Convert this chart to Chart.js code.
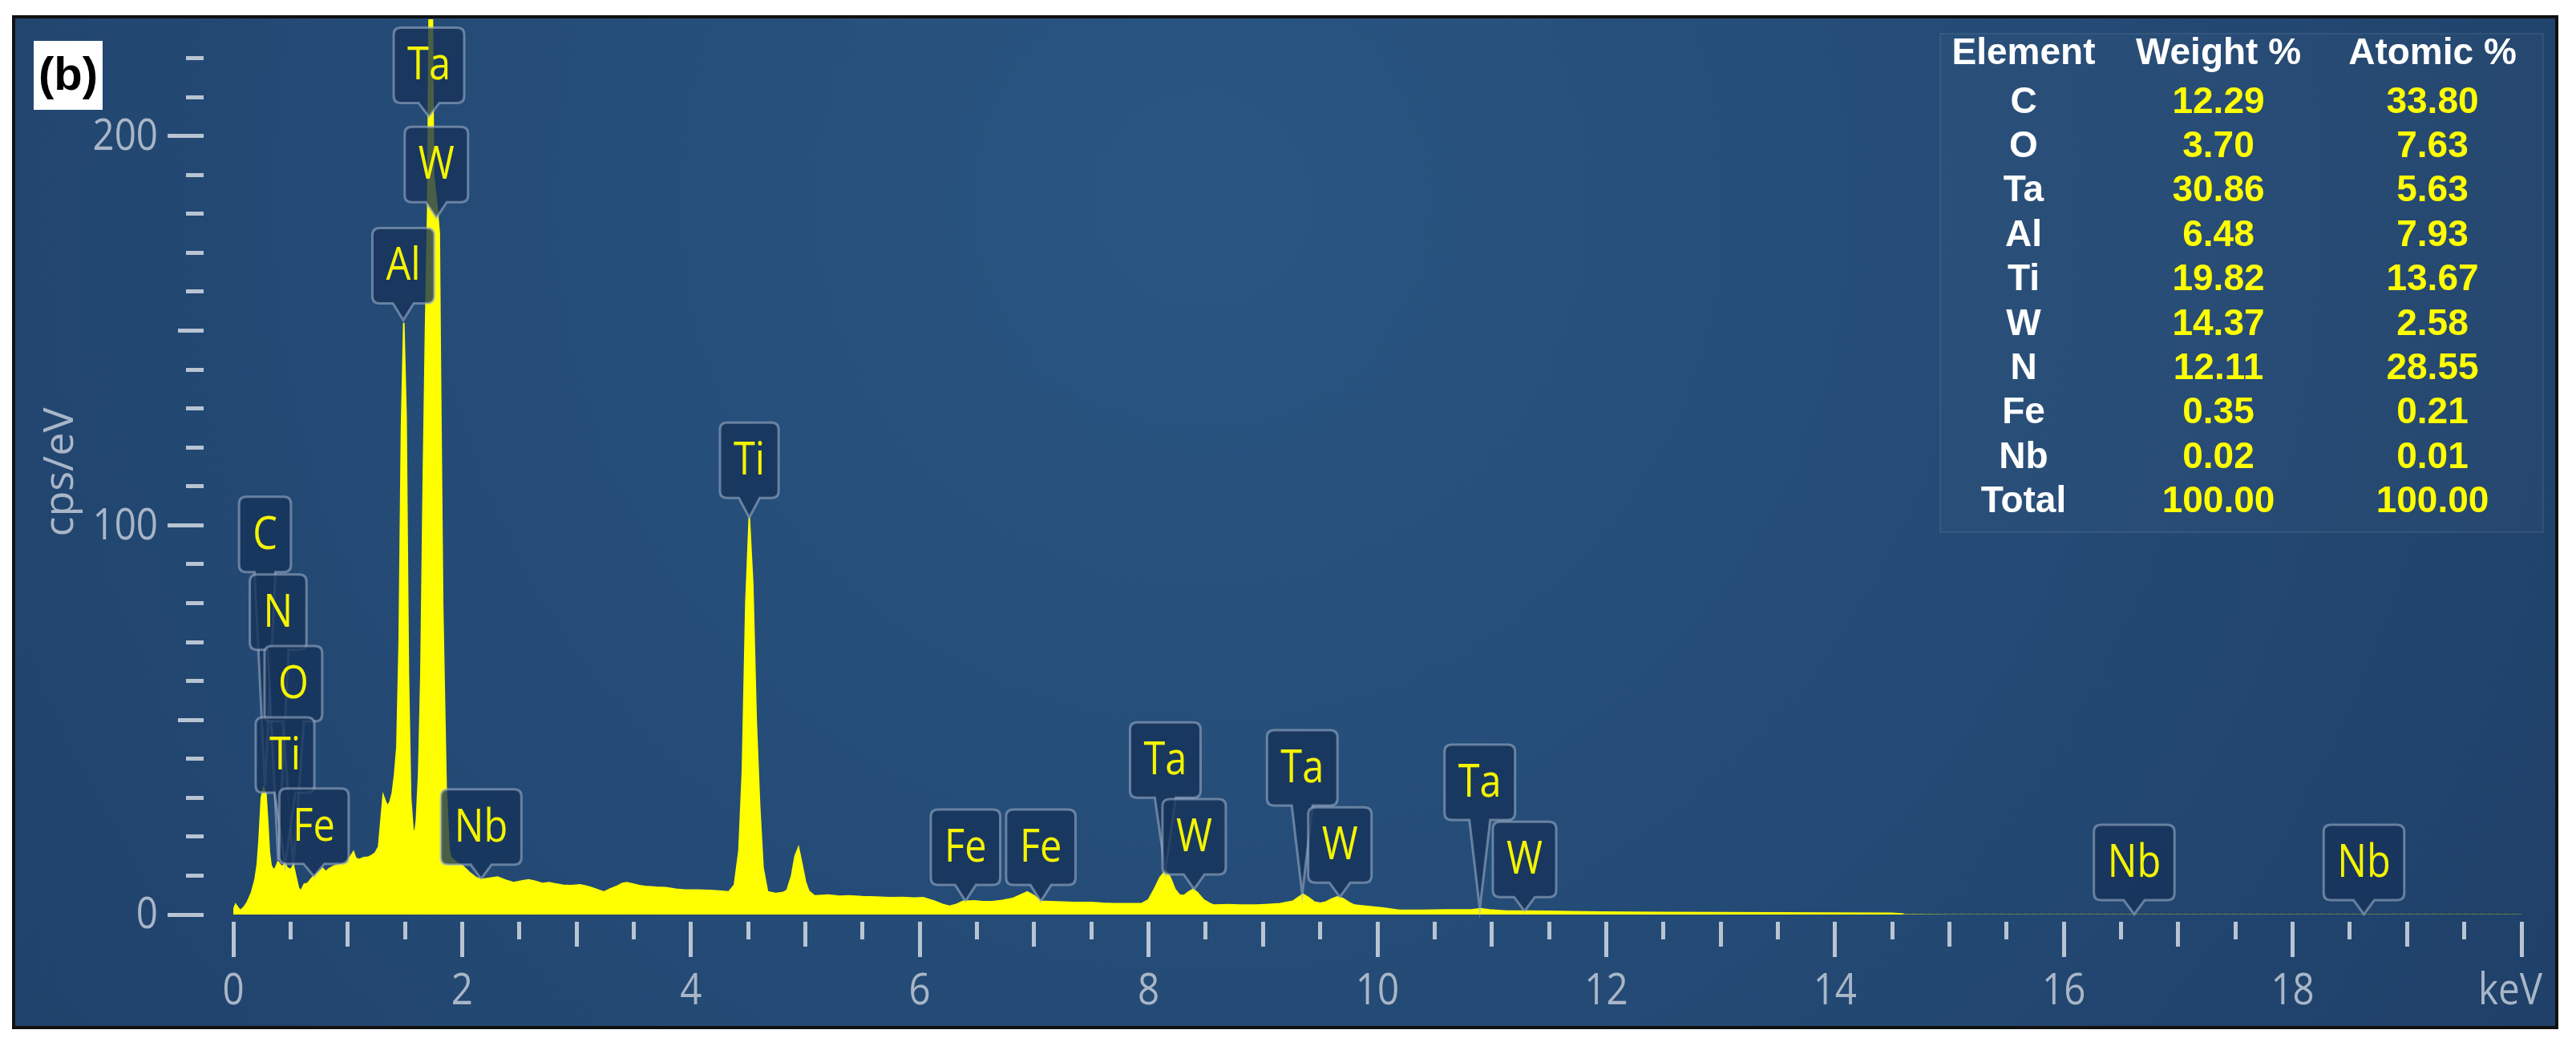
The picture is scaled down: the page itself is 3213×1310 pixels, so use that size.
<!DOCTYPE html>
<html><head><meta charset="utf-8">
<script src="https://cdn.jsdelivr.net/npm/chart.js@4.4.0/dist/chart.umd.min.js"></script>
<style>html,body{margin:0;padding:0;background:#fff;overflow:hidden}#wrap{width:3213px;height:1310px;position:relative}</style>
</head><body><div id="wrap"><canvas id="c" width="3213" height="1310"></canvas></div>
<script>
// ---- spectrum (keV, cps/eV) ----
const energies = [0.00,0.02,0.04,0.06,0.09,0.12,0.16,0.19,0.21,0.225,0.245,0.265,0.285,0.30,0.315,0.33,0.35,0.37,0.39,0.41,0.43,0.45,0.47,0.50,0.525,0.545,0.57,0.59,0.62,0.65,0.67,0.70,0.73,0.76,0.78,0.81,0.83,0.87,0.90,0.94,0.97,1.00,1.02,1.05,1.07,1.10,1.14,1.18,1.21,1.24,1.27,1.29,1.31,1.33,1.35,1.37,1.39,1.41,1.43,1.45,1.47,1.49,1.51,1.53,1.55,1.57,1.585,1.60,1.62,1.64,1.66,1.68,1.70,1.715,1.735,1.75,1.78,1.80,1.81,1.83,1.86,1.885,1.90,1.95,2.00,2.06,2.12,2.17,2.24,2.31,2.38,2.45,2.52,2.58,2.63,2.70,2.76,2.81,2.88,2.95,3.03,3.08,3.13,3.19,3.24,3.29,3.35,3.40,3.44,3.50,3.55,3.60,3.70,3.78,3.87,3.95,4.05,4.17,4.25,4.33,4.38,4.42,4.45,4.48,4.51,4.54,4.57,4.60,4.63,4.67,4.74,4.80,4.84,4.88,4.91,4.94,4.97,5.00,5.03,5.08,5.20,5.30,5.38,5.50,5.62,5.74,5.85,5.95,6.03,6.13,6.20,6.26,6.32,6.38,6.48,6.55,6.63,6.72,6.81,6.88,6.94,7.00,7.06,7.15,7.25,7.35,7.50,7.60,7.69,7.80,7.94,8.00,8.05,8.10,8.15,8.19,8.23,8.27,8.31,8.35,8.39,8.43,8.48,8.53,8.57,8.70,8.80,8.94,9.05,9.15,9.26,9.31,9.35,9.40,9.45,9.50,9.55,9.60,9.65,9.70,9.75,9.80,9.90,10.04,10.19,10.40,10.60,10.82,10.90,10.98,11.13,11.30,11.50,11.70,11.97,12.5,13.0,13.5,14.0,14.5,14.6,15.0,16.0,17.0,18.0,19.0,20.0];
const counts = [1.0,2.6,1.8,1.0,1.8,3.0,5.7,9.0,13,19,30,32.5,31,24,16,12.6,11.5,12,13.5,12.8,12.2,13.3,12.0,11.5,12.6,10.0,6.8,6.0,7.8,8.0,8.8,9.8,10.5,11.2,11.9,11.0,11.6,12.3,12.6,12.8,13.3,14.2,14.7,16.1,14.5,14.1,14.6,14.7,15.2,15.8,17.4,24,30.6,29,27.8,29,31.2,36,43,70,125,152,128,62,30,22,20.5,24,36,62,110,150,182,245,250,190,182,175,140,79,33,17,14.7,13.4,12.6,10.9,9.5,9.0,9.3,9.6,8.8,8.2,8.6,8.9,8.6,8.0,8.2,7.9,7.5,7.4,7.6,7.3,6.9,6.3,5.8,6.5,7.2,8.0,8.2,7.8,7.4,7.2,7.0,6.9,6.5,6.3,6.3,6.2,6.0,5.8,7.6,16.5,37,80,102,85,50,28,12,5.8,5.4,5.6,6.2,10,15,17.2,13,8.5,6.0,4.8,5.0,4.7,4.8,4.6,4.5,4.3,4.4,4.2,4.3,3.4,2.6,2.1,2.6,3.4,3.5,3.3,3.3,3.6,4.1,5.0,5.8,4.8,3.4,3.3,3.2,3.1,3.1,2.9,2.8,2.8,2.8,3.8,6.5,9.5,11.3,9.5,6.5,5.0,4.9,5.8,6.5,5.5,3.8,2.9,2.4,2.5,2.4,2.4,2.6,2.8,3.4,4.4,5.2,4.3,3.2,2.9,3.2,4.0,4.5,4.1,3.1,2.4,2.1,1.7,1.1,1.1,1.2,1.2,1.5,1.2,0.9,0.9,0.8,0.7,0.6,0.5,0.45,0.4,0.35,0.3,0.1,0.05,0.05,0.05,0.05,0.05,0.05];
const faintFrom = 14.6; // spectrum becomes a faint dotted trace beyond this energy

// ---- axes ----
const xTickValues = [0,2,4,6,8,10,12,14,16,18,20];
const xTickLabels = ['0','2','4','6','8','10','12','14','16','18','keV'];
const yTickValues = [0,100,200];
const yTickLabels = ['0','100','200'];
const yTitle = 'cps/eV';
const panelTag = '(b)';

// ---- peak markers (element, line energy keV, pointer tip cps/eV, box base cps/eV) ----
const peakNames    = ['Ta','W','Al','C','N','O','Ti','Fe','Nb','Ti','Fe','Fe','Ta','W','Ta','W','Ta','W','Nb','Nb'];
const peakEnergies = [1.710,1.775,1.486,0.277,0.392,0.525,0.452,0.705,2.166,4.510,6.400,7.058,8.146,8.398,9.343,9.672,10.895,11.286,16.615,18.623];
const peakTips     = [205,179,152.7,33,14,12.6,13,9.8,9.2,102,3.5,3.4,11.3,6.5,5.2,4.5,1.5,0.9,0.05,0.05];
const peakBases    = [208.5,183,157,88,68,49.6,31.3,13,12.8,107,7.6,7.6,30,10.3,28,8.2,24.3,4.5,3.7,3.7];

// ---- quantification table ----
const tableHeader  = ['Element','Weight %','Atomic %'];
const tableElements= ['C','O','Ta','Al','Ti','W','N','Fe','Nb','Total'];
const tableWeight  = ['12.29','3.70','30.86','6.48','19.82','14.37','12.11','0.35','0.02','100.00'];
const tableAtomic  = ['33.80','7.63','5.63','7.93','13.67','2.58','28.55','0.21','0.01','100.00'];

const TICK_COL = '#b9c4d2';
const LABEL_COL = '#a9b6c7';
const LFONT = '"Open Sans", "Noto Sans", sans-serif';

function squishText(ctx, txt, x, y, sx){
  ctx.save(); ctx.translate(x, y); ctx.scale(sx, 1); ctx.fillText(txt, 0, 0); ctx.restore();
}

const panelPlugin = {
  id: 'panel',
  beforeDraw(chart){
    const ctx = chart.ctx;
    ctx.save();
    ctx.fillStyle = '#ffffff';
    ctx.fillRect(0,0,chart.width,chart.height);
    const L=17,T=21,R=3189,B=1282;
    const g = ctx.createRadialGradient(1500,250,0,1500,250,2300);
    g.addColorStop(0,'#2a5582');
    g.addColorStop(0.45,'#244b76');
    g.addColorStop(1,'#1d3c64');
    ctx.fillStyle = g;
    ctx.fillRect(L,T,R-L,B-T);
    ctx.strokeStyle = '#111';
    ctx.lineWidth = 4;
    ctx.strokeRect(L,T,R-L,B-T);
    // faint table frame
    ctx.fillStyle = 'rgba(255,255,255,0.025)';
    ctx.fillRect(2420,42,752,622);
    ctx.strokeStyle = 'rgba(255,255,255,0.07)';
    ctx.lineWidth = 2;
    ctx.strokeRect(2420,42,752,622);
    ctx.restore();
  },
  afterDraw(chart){
    const ctx = chart.ctx;
    const xs = chart.scales.x, ys = chart.scales.y;
    ctx.save();
    // y ticks
    ctx.fillStyle = TICK_COL;
    for (let v=0; v<=220; v+=10){
      const y = ys.getPixelForValue(v);
      const len = (v%100===0)?45:((v%50===0)?32:22);
      ctx.fillRect(254-len, Math.round(y-2.5), len, 5);
    }
    // x ticks
    for (let k=0; k<=40; k++){
      const e = k*0.5;
      const x = xs.getPixelForValue(e);
      const len = (k%4===0)?44:((k%2===0)?31:22);
      ctx.fillRect(Math.round(x-2.5), 1150, 5, len);
    }
    // tick labels
    ctx.fillStyle = LABEL_COL;
    ctx.font = '54px ' + LFONT;
    ctx.textBaseline = 'middle';
    ctx.textAlign = 'right';
    yTickValues.forEach((v,i)=>{
      squishText(ctx, yTickLabels[i], 197, ys.getPixelForValue(v)+2, 0.88);
    });
    ctx.textAlign = 'center';
    xTickValues.forEach((v,i)=>{
      let x = xs.getPixelForValue(v);
      if (i===xTickValues.length-1) x -= 14;
      squishText(ctx, xTickLabels[i], x, 1238, 0.88);
    });
    // y title
    ctx.save();
    ctx.translate(76, 589);
    ctx.rotate(-Math.PI/2);
    ctx.font = '52px ' + LFONT;
    ctx.textAlign = 'center';
    ctx.textBaseline = 'middle';
    ctx.fillStyle = LABEL_COL;
    ctx.fillText(yTitle, 0, 0);
    ctx.restore();
    // panel tag
    ctx.fillStyle = '#ffffff';
    ctx.fillRect(42,51,86,86);
    ctx.fillStyle = '#000';
    ctx.font = 'bold 58px "Liberation Sans", Arial, sans-serif';
    ctx.textAlign = 'center';
    ctx.textBaseline = 'middle';
    ctx.fillText(panelTag, 85, 96);
    // table
    const cols = [2524, 2767, 3034];
    ctx.font = 'bold 46px "Liberation Sans", Arial, sans-serif';
    ctx.textBaseline = 'middle';
    ctx.textAlign = 'center';
    ctx.fillStyle = '#ffffff';
    tableHeader.forEach((h,i)=> ctx.fillText(h, cols[i], 67));
    tableElements.forEach((el,r)=>{
      const y = 128 + r*55.4;
      ctx.fillStyle = '#ffffff';
      ctx.fillText(el, cols[0], y);
      ctx.fillStyle = '#ffff00';
      ctx.fillText(tableWeight[r], cols[1], y);
      ctx.fillText(tableAtomic[r], cols[2], y);
    });
    ctx.restore();
  }
};

const markerPlugin = {
  id: 'markers',
  afterDatasetsDraw(chart){
    const ctx = chart.ctx;
    const xs = chart.scales.x, ys = chart.scales.y;
    ctx.save();
    ctx.font = '56px ' + LFONT;
    const H = 94, r = 9, hw = 13, sx = 0.87;
    peakNames.forEach((name,i)=>{
      const x = xs.getPixelForValue(peakEnergies[i]);
      const tipY = ys.getPixelForValue(peakTips[i]);
      const baseY = ys.getPixelForValue(peakBases[i]);
      const topY = baseY - H;
      const w = ctx.measureText(name).width*sx + 34;
      const l = x - w/2, rr = x + w/2;
      ctx.beginPath();
      ctx.moveTo(l+r, topY);
      ctx.lineTo(rr-r, topY);
      ctx.quadraticCurveTo(rr, topY, rr, topY+r);
      ctx.lineTo(rr, baseY-r);
      ctx.quadraticCurveTo(rr, baseY, rr-r, baseY);
      ctx.lineTo(x+hw, baseY);
      ctx.lineTo(x, tipY);
      ctx.lineTo(x-hw, baseY);
      ctx.lineTo(l+r, baseY);
      ctx.quadraticCurveTo(l, baseY, l, baseY-r);
      ctx.lineTo(l, topY+r);
      ctx.quadraticCurveTo(l, topY, l+r, topY);
      ctx.closePath();
      ctx.fillStyle = 'rgba(22,50,88,0.78)';
      ctx.fill();
      ctx.strokeStyle = 'rgba(165,182,205,0.55)';
      ctx.lineWidth = 3;
      ctx.stroke();
      ctx.fillStyle = '#f4f400';
      ctx.textAlign = 'center';
      ctx.textBaseline = 'middle';
      squishText(ctx, name, x, topY + H/2 + 2, sx);
    });
    ctx.restore();
  }
};

new Chart(document.getElementById('c'), {
  type: 'line',
  data: {
    datasets: [{
      data: energies.map((e,i)=>({x:e, y:counts[i]})),
      borderColor: '#ffff00',
      backgroundColor: '#ffff00',
      borderWidth: 2,
      pointRadius: 0,
      tension: 0,
      fill: 'origin',
      segment: {
        borderColor: c => c.p0.parsed.x >= faintFrom ? 'rgba(255,255,0,0.12)' : undefined,
        borderDash: c => c.p0.parsed.x >= faintFrom ? [4,6] : undefined
      }
    }]
  },
  options: {
    responsive: false,
    devicePixelRatio: 1,
    animation: false,
    events: [],
    layout: { padding: { left: 291, right: 68, top: 24, bottom: 169 } },
    plugins: { legend: {display:false}, tooltip: {enabled:false} },
    scales: {
      x: { type: 'linear', min: 0, max: 20, display: false },
      y: { type: 'linear', min: 0, max: 230, display: false }
    }
  },
  plugins: [panelPlugin, markerPlugin]
});
</script></body></html>
